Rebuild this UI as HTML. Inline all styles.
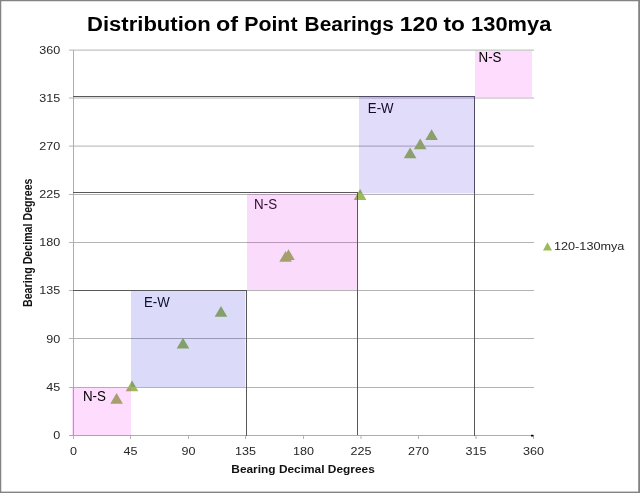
<!DOCTYPE html>
<html><head><meta charset="utf-8"><title>Chart</title>
<style>html,body{margin:0;padding:0;background:#fff;width:640px;height:493px;overflow:hidden;font-family:"Liberation Sans",sans-serif;}</style></head>
<body>
<svg width="640" height="493" viewBox="0 0 640 493" style="display:block;position:absolute;left:0;top:0">
<rect x="0" y="0" width="640" height="493" fill="#ffffff"/>
<g style="opacity:0.999">
<rect x="69" y="387.00" width="465" height="1" fill="#b4b4b4"/>
<rect x="69" y="338.00" width="465" height="1" fill="#b4b4b4"/>
<rect x="69" y="290.00" width="465" height="1" fill="#b4b4b4"/>
<rect x="69" y="242.00" width="465" height="1" fill="#b4b4b4"/>
<rect x="69" y="194.00" width="465" height="1" fill="#b4b4b4"/>
<rect x="69" y="145.60" width="465" height="1" fill="#b4b4b4"/>
<rect x="69" y="97.50" width="465" height="1" fill="#b4b4b4"/>
<rect x="69" y="49.60" width="465" height="1" fill="#b4b4b4"/>
<rect x="73" y="50" width="1" height="386" fill="#adadad"/>
<rect x="69" y="435" width="465" height="1" fill="#adadad"/>
<rect x="73.00" y="436" width="1" height="3" fill="#b4b4b4"/>
<rect x="130.00" y="436" width="1" height="3" fill="#b4b4b4"/>
<rect x="188.00" y="436" width="1" height="3" fill="#b4b4b4"/>
<rect x="245.00" y="436" width="1" height="3" fill="#b4b4b4"/>
<rect x="303.00" y="436" width="1" height="3" fill="#b4b4b4"/>
<rect x="360.50" y="436" width="1" height="3" fill="#b4b4b4"/>
<rect x="418.00" y="436" width="1" height="3" fill="#b4b4b4"/>
<rect x="475.50" y="436" width="1" height="3" fill="#b4b4b4"/>
<rect x="533.00" y="436" width="1" height="3" fill="#b4b4b4"/>
<rect x="531" y="434.8" width="2.4" height="1.7" fill="#000"/>
<polygon points="116.6,392.9 122.9,403.7 110.3,403.7" fill="#9bbb59"/>
<polygon points="132.0,380.4 138.3,391.2 125.7,391.2" fill="#9bbb59"/>
<polygon points="183.0,337.7 189.3,348.5 176.7,348.5" fill="#9bbb59"/>
<polygon points="221.0,305.9 227.3,316.7 214.7,316.7" fill="#9bbb59"/>
<polygon points="285.6,251.0 291.9,261.8 279.3,261.8" fill="#9bbb59"/>
<polygon points="288.5,249.2 294.8,260.0 282.2,260.0" fill="#9bbb59"/>
<polygon points="360.1,189.1 366.4,199.9 353.8,199.9" fill="#9bbb59"/>
<polygon points="410.1,147.4 416.4,158.2 403.8,158.2" fill="#9bbb59"/>
<polygon points="420.2,138.5 426.5,149.3 413.9,149.3" fill="#9bbb59"/>
<polygon points="431.6,129.3 437.9,140.1 425.3,140.1" fill="#9bbb59"/>
<rect x="73" y="290" width="174" height="1" fill="#585858"/>
<rect x="246" y="290" width="1" height="146" fill="#585858"/>
<rect x="73" y="192" width="285" height="1" fill="#585858"/>
<rect x="357" y="192" width="1" height="243" fill="#585858"/>
<rect x="73" y="96" width="402" height="1" fill="#585858"/>
<rect x="474" y="96" width="1" height="340" fill="#585858"/>
<text x="254.1" y="209.1" font-family="Liberation Sans, sans-serif" font-size="14.2" fill="#111" textLength="23" lengthAdjust="spacingAndGlyphs">N-S</text>
<text x="367.8" y="113.3" font-family="Liberation Sans, sans-serif" font-size="14.2" fill="#111" textLength="25.8" lengthAdjust="spacingAndGlyphs">E-W</text>
<text x="143.9" y="307" font-family="Liberation Sans, sans-serif" font-size="14.2" fill="#111" textLength="25.8" lengthAdjust="spacingAndGlyphs">E-W</text>
<rect x="72" y="387.7" width="59" height="47.7" fill="rgba(240,0,240,0.14)"/>
<rect x="131" y="291" width="114.4" height="96" fill="rgba(0,0,215,0.145)"/>
<rect x="247" y="194" width="110" height="96" fill="rgba(225,0,225,0.145)"/>
<rect x="359" y="96" width="116" height="97.4" fill="rgba(40,0,215,0.14)"/>
<rect x="475" y="51" width="57" height="46" fill="rgba(240,0,240,0.14)"/>
<text x="82.9" y="401" font-family="Liberation Sans, sans-serif" font-size="14.2" fill="#000" textLength="23" lengthAdjust="spacingAndGlyphs">N-S</text>
<text x="478.5" y="62" font-family="Liberation Sans, sans-serif" font-size="14.2" fill="#000" textLength="23" lengthAdjust="spacingAndGlyphs">N-S</text>
<text x="87.02" y="31" font-family="Liberation Sans, sans-serif" font-size="19.5" font-weight="bold" fill="#000" textLength="123.74" lengthAdjust="spacingAndGlyphs">Distribution</text>
<text x="215.99" y="31" font-family="Liberation Sans, sans-serif" font-size="19.5" font-weight="bold" fill="#000" textLength="22.07" lengthAdjust="spacingAndGlyphs">of</text>
<text x="244.17" y="31" font-family="Liberation Sans, sans-serif" font-size="19.5" font-weight="bold" fill="#000" textLength="53.34" lengthAdjust="spacingAndGlyphs">Point</text>
<text x="304.60" y="31" font-family="Liberation Sans, sans-serif" font-size="19.5" font-weight="bold" fill="#000" textLength="89.35" lengthAdjust="spacingAndGlyphs">Bearings</text>
<text x="399.80" y="31" font-family="Liberation Sans, sans-serif" font-size="19.5" font-weight="bold" fill="#000" textLength="38.34" lengthAdjust="spacingAndGlyphs">120</text>
<text x="443.47" y="31" font-family="Liberation Sans, sans-serif" font-size="19.5" font-weight="bold" fill="#000" textLength="21.41" lengthAdjust="spacingAndGlyphs">to</text>
<text x="471.12" y="31" font-family="Liberation Sans, sans-serif" font-size="19.5" font-weight="bold" fill="#000" textLength="80.24" lengthAdjust="spacingAndGlyphs">130mya</text>
<text x="53.3" y="439.1" font-family="Liberation Sans, sans-serif" font-size="11" fill="#262626" textLength="7.0" lengthAdjust="spacingAndGlyphs">0</text>
<text x="70.0" y="455" font-family="Liberation Sans, sans-serif" font-size="11" fill="#262626" textLength="7.0" lengthAdjust="spacingAndGlyphs">0</text>
<text x="46.3" y="391.1" font-family="Liberation Sans, sans-serif" font-size="11" fill="#262626" textLength="14.0" lengthAdjust="spacingAndGlyphs">45</text>
<text x="123.5" y="455" font-family="Liberation Sans, sans-serif" font-size="11" fill="#262626" textLength="14.0" lengthAdjust="spacingAndGlyphs">45</text>
<text x="46.3" y="342.8" font-family="Liberation Sans, sans-serif" font-size="11" fill="#262626" textLength="14.0" lengthAdjust="spacingAndGlyphs">90</text>
<text x="181.5" y="455" font-family="Liberation Sans, sans-serif" font-size="11" fill="#262626" textLength="14.0" lengthAdjust="spacingAndGlyphs">90</text>
<text x="39.3" y="294.1" font-family="Liberation Sans, sans-serif" font-size="11" fill="#262626" textLength="21.0" lengthAdjust="spacingAndGlyphs">135</text>
<text x="235.0" y="455" font-family="Liberation Sans, sans-serif" font-size="11" fill="#262626" textLength="21.0" lengthAdjust="spacingAndGlyphs">135</text>
<text x="39.3" y="246.1" font-family="Liberation Sans, sans-serif" font-size="11" fill="#262626" textLength="21.0" lengthAdjust="spacingAndGlyphs">180</text>
<text x="293.0" y="455" font-family="Liberation Sans, sans-serif" font-size="11" fill="#262626" textLength="21.0" lengthAdjust="spacingAndGlyphs">180</text>
<text x="39.3" y="198.1" font-family="Liberation Sans, sans-serif" font-size="11" fill="#262626" textLength="21.0" lengthAdjust="spacingAndGlyphs">225</text>
<text x="350.5" y="455" font-family="Liberation Sans, sans-serif" font-size="11" fill="#262626" textLength="21.0" lengthAdjust="spacingAndGlyphs">225</text>
<text x="39.3" y="149.7" font-family="Liberation Sans, sans-serif" font-size="11" fill="#262626" textLength="21.0" lengthAdjust="spacingAndGlyphs">270</text>
<text x="408.0" y="455" font-family="Liberation Sans, sans-serif" font-size="11" fill="#262626" textLength="21.0" lengthAdjust="spacingAndGlyphs">270</text>
<text x="39.3" y="101.6" font-family="Liberation Sans, sans-serif" font-size="11" fill="#262626" textLength="21.0" lengthAdjust="spacingAndGlyphs">315</text>
<text x="465.5" y="455" font-family="Liberation Sans, sans-serif" font-size="11" fill="#262626" textLength="21.0" lengthAdjust="spacingAndGlyphs">315</text>
<text x="39.3" y="53.7" font-family="Liberation Sans, sans-serif" font-size="11" fill="#262626" textLength="21.0" lengthAdjust="spacingAndGlyphs">360</text>
<text x="523.0" y="455" font-family="Liberation Sans, sans-serif" font-size="11" fill="#262626" textLength="21.0" lengthAdjust="spacingAndGlyphs">360</text>
<text x="231.3" y="473.3" font-family="Liberation Sans, sans-serif" font-size="10.7" font-weight="bold" fill="#111" textLength="143.5" lengthAdjust="spacingAndGlyphs">Bearing Decimal Degrees</text>
<text transform="translate(31.6,307) rotate(-90)" x="0" y="0" font-family="Liberation Sans, sans-serif" font-size="12" font-weight="bold" fill="#111" textLength="128.5" lengthAdjust="spacingAndGlyphs">Bearing Decimal Degrees</text>
<polygon points="547.5,242.3 552,250.4 543,250.4" fill="#9bbb59"/>
<text x="554" y="250" font-family="Liberation Sans, sans-serif" font-size="10.6" fill="#262626" textLength="70.4" lengthAdjust="spacingAndGlyphs">120-130mya</text>
</g>
<rect x="0" y="0" width="640" height="1.25" fill="#838383"/>
<rect x="0" y="0" width="1.25" height="493" fill="#838383"/>
<rect x="638.2" y="0" width="1.8" height="493" fill="#838383"/>
<rect x="0" y="491.6" width="640" height="1.4" fill="#838383"/>
</svg>
</body></html>
